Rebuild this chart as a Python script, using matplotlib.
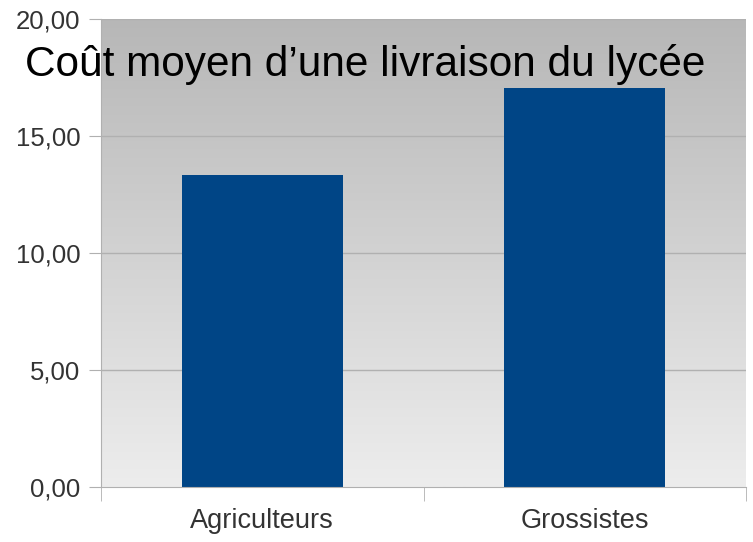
import numpy as np
import matplotlib
matplotlib.use('Agg')
import matplotlib.pyplot as plt

categories = ['Agriculteurs', 'Grossistes']
values = [13.35, 17.05]
yticks = [0, 5, 10, 15, 20]
ytick_labels = ['0,00', '5,00', '10,00', '15,00', '20,00']
title = 'Coût moyen d\u2019une livraison du lycée'

plt.rcParams['font.family'] = ['Liberation Sans', 'DejaVu Sans']

fig = plt.figure(figsize=(7.53, 5.42), dpi=100)
ax = fig.add_axes([101 / 753, 1 - 487 / 542, 645 / 753, 468 / 542])

# gradient background
grad = np.linspace(0, 1, 256).reshape(-1, 1)
ax.imshow(grad, cmap=matplotlib.colors.LinearSegmentedColormap.from_list(
    'bg', ['#ededed', '#b7b7b7']), aspect='auto', origin='lower',
    extent=[-0.5, 1.5, 0, 20], zorder=0)

for y in yticks[1:]:
    ax.axhline(y, color='#b0b0b0', lw=1, zorder=1)

x = np.arange(len(categories))
ax.bar(x, values, width=0.5, color='#004586', zorder=2)

ax.set_xlim(-0.5, 1.5)
ax.set_ylim(0, 20)
ax.set_yticks(yticks)
ax.set_yticklabels(ytick_labels, fontsize=18.5, color='#333333')
ax.set_xticks(x)
ax.set_xticklabels(categories, fontsize=19.5, color='#333333')
ax.tick_params(axis='x', length=0, pad=15)
ax.tick_params(axis='y', length=9, color='#b0b0b0', pad=6)

# category separators
ax.set_xticks([-0.5, 0.5, 1.5], minor=True)
ax.tick_params(axis='x', which='minor', length=10, color='#b0b0b0')

for s in ['top', 'right']:
    ax.spines[s].set_visible(False)
ax.spines['left'].set_color('#b0b0b0')
ax.spines['bottom'].set_color('#b0b0b0')

fig.text(365 / 753, 1 - 76 / 542, title, fontsize=30.5, ha='center',
         va='baseline', color='black', zorder=5)

fig.savefig('out.png', dpi=100)
